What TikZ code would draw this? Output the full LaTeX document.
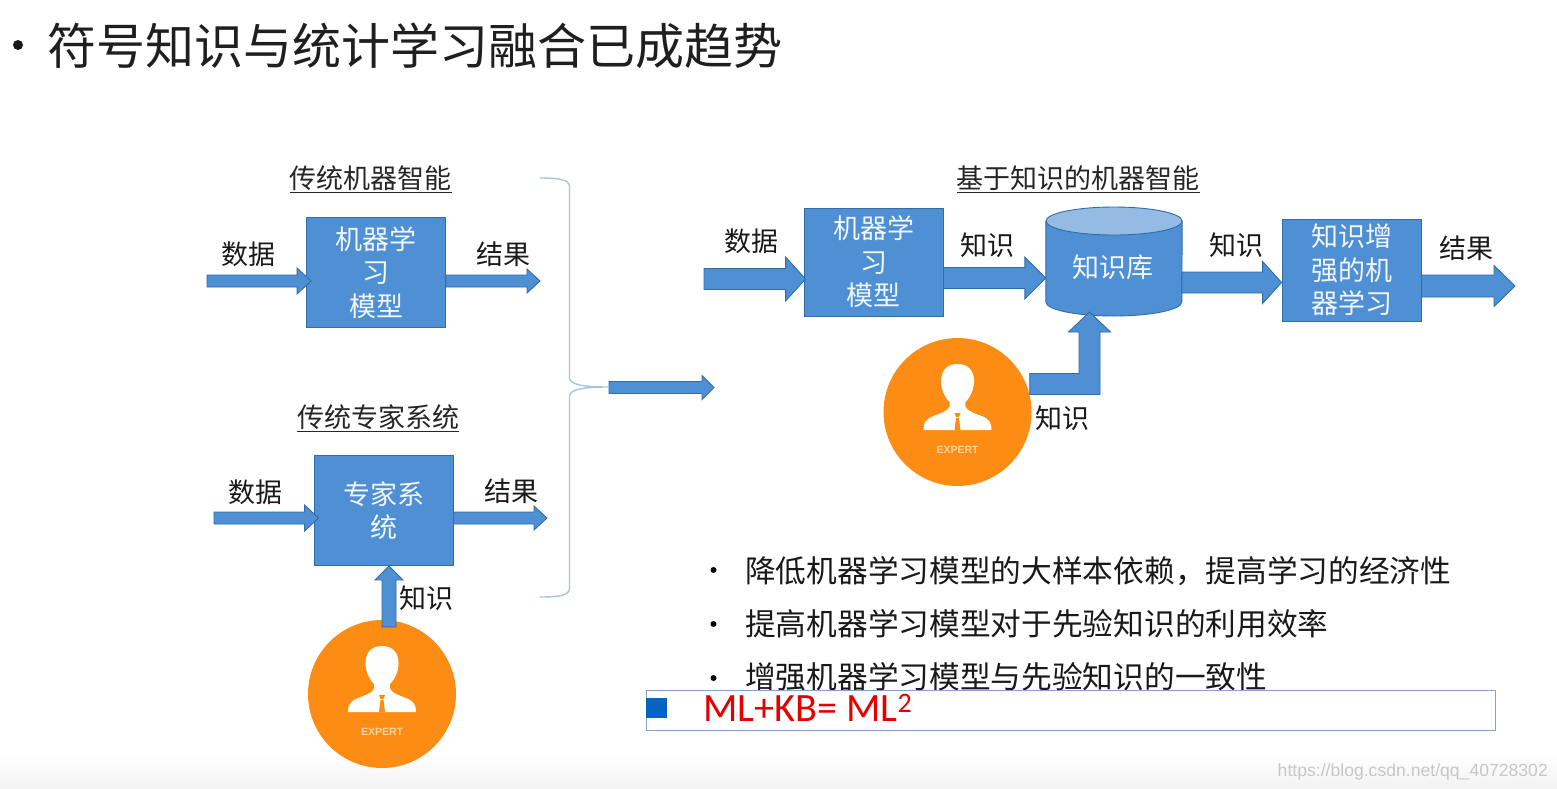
\documentclass[tikz,border=0pt]{standalone}
\usepackage{fontspec}
\setmainfont{Noto Sans CJK SC}
\newfontfamily\latinfont{Liberation Sans}
\newfontfamily\mlfont{Carlito}
\usetikzlibrary{calc}
\definecolor{blockfill}{HTML}{4F8FD3}
\definecolor{blockedge}{HTML}{2F6CA8}
\definecolor{bracecol}{HTML}{A9C3E3}
\definecolor{expertor}{HTML}{FC8C14}
\definecolor{cyltop}{HTML}{93BBE4}
\definecolor{bandedge}{HTML}{86A3C8}
\definecolor{sqblue}{HTML}{0563C1}
\definecolor{expertlabel}{HTML}{FFD5A3}
\tikzset{
  blockarrow/.style={fill=blockfill,draw=blockedge,line width=0.9pt,line join=miter},
  bluebox/.style={rectangle,fill=blockfill,draw=blockedge,line width=0.9pt,inner sep=0pt,text=white!92!blockfill,align=center,font=\fontsize{27}{33.5}\selectfont},
  lab/.style={inner sep=0pt,font=\fontsize{27}{33}\selectfont,text=black!90},
  heading/.style={inner sep=0pt,font=\fontsize{27}{33}\selectfont,text=black!85},
  pointtext/.style={inner sep=0pt,anchor=west,font=\fontsize{30.7}{36}\selectfont,text=black!90},
  dotmark/.style={circle,fill=black,inner sep=0pt,minimum size=6pt},
  expertdisc/.style={circle,fill=expertor,inner sep=0pt,minimum size=148pt},
  expertname/.style={inner sep=0pt,text=expertlabel,font=\latinfont\bfseries\fontsize{10.5}{12}\selectfont},
  bracepath/.style={draw=bracecol,line width=1.4pt,line cap=round}
}
% #1 from, #2 to, #3 half shaft, #4 half head, #5 head length
\newcommand{\harrow}[5]{%
  \draw[blockarrow] let \p1=(#1),\p2=(#2) in
    (\x1,\y1+#3pt) -- (\x2-#5pt,\y1+#3pt) -- (\x2-#5pt,\y1+#4pt) -- (\x2,\y1)
    -- (\x2-#5pt,\y1-#4pt) -- (\x2-#5pt,\y1-#3pt) -- (\x1,\y1-#3pt) -- cycle;}
\newcommand{\experticon}[1]{%
  \begin{scope}[shift={(#1)}]
    \fill[white] (-8,-10) .. controls (-20,-22) and (-21,-48) .. (0,-48)
      .. controls (21,-48) and (20,-22) .. (8,-10)
      .. controls (6,-4) and (10,-1) .. (24,4)
      .. controls (32,7) and (34,11) .. (34,18)
      -- (-34,18) .. controls (-34,11) and (-32,7) .. (-24,4)
      .. controls (-10,-1) and (-6,-4) .. (-8,-10) -- cycle;
    \fill[expertor] (-3,1) -- (3,1) -- (1.5,5) -- (-1.5,5) -- cycle;
    \fill[expertor] (-1.5,6) -- (1.5,6) -- (3,18) -- (-3,18) -- cycle;
  \end{scope}}
\begin{document}
\begin{tikzpicture}[x=1pt,y=-1pt]
\useasboundingbox (0,0) rectangle (1557,788);
\shade[top color=white,bottom color=black!5] (0,755) rectangle (1557,788);

% title
\node[circle,fill=black!90,inner sep=0pt,minimum size=10pt] (titledot) at (18,45) {};
\node[inner sep=0pt,anchor=west,font=\fontsize{49}{56}\selectfont,text=black!88] (title) at (47,46) {符号知识与统计学习融合已成趋势};

% upper left: machine intelligence
\node[heading] (h1) at (370.5,179) {\underline{传统机器智能}};
\node[bluebox,minimum width=139pt,minimum height=110pt] (ml1) at (376,272.5) {机器学\\习\\模型};
\coordinate (d1) at (207,281);
\coordinate (r1) at (540,281);
\harrow{d1}{$(ml1.west |- d1)+(5,0)$}{6}{13}{14}
\harrow{ml1.east |- r1}{r1}{6}{12}{13}
\node[lab] (d1t) at (248,254) {数据};
\node[lab] (r1t) at (503,254) {结果};

% lower left: expert system
\node[heading] (h2) at (378,418) {\underline{传统专家系统}};
\node[bluebox,minimum width=139pt,minimum height=110pt] (es) at (383.5,510.5) {专家系\\统};
\coordinate (d2) at (214,518);
\coordinate (r2) at (547,518);
\harrow{d2}{$(es.west |- d2)+(5,0)$}{6}{13}{14}
\harrow{es.east |- r2}{r2}{6}{12}{13}
\node[lab] (d2t) at (255,492) {数据};
\node[lab] (r2t) at (511,491) {结果};
\node[expertdisc] (exp1) at (382,694) {};
\experticon{382,694}
\node[expertname] (exp1t) at (382,732) {EXPERT};
\coordinate (u1) at (389,627);
\draw[blockarrow] let \p1=(u1),\p2=(es.south) in
  (\x1-7pt,\y1) -- (\x1-7pt,\y2-14pt) -- (\x1-14pt,\y2-14pt) -- (\x1,\y2)
  -- (\x1+14pt,\y2-14pt) -- (\x1+7pt,\y2-14pt) -- (\x1+7pt,\y1) -- cycle;
\node[lab] (k1t) at (426,598) {知识};

% brace
\coordinate (bt) at (540,178);
\coordinate (bb) at (540,597);
\coordinate (bm) at (608,387);
\draw[bracepath] (bt) .. controls (556,178) and (569,179) .. (569.5,186)
  -- (569.5,378) .. controls (570,385) and (585,387) .. (bm)
  .. controls (585,387) and (570,389) .. (569.5,396)
  -- (569.5,589) .. controls (569,596) and (556,597) .. (bb);
\coordinate (ms) at (609,387.5);
\coordinate (me) at (714,387.5);
\harrow{ms}{me}{6}{12}{12}

% right: knowledge-based
\node[heading] (h3) at (1078,179) {\underline{基于知识的机器智能}};
\node[bluebox,minimum width=139pt,minimum height=108pt] (ml2) at (873.5,262) {机器学\\习\\模型};
% cylinder
\node[inner sep=0pt,minimum width=136pt,minimum height=109pt] (kb) at (1114,261.5) {};
\draw[fill=blockfill,draw=blockedge,line width=0.9pt] (kb.west |- 0,221) -- (kb.west |- 0,302)
  arc[start angle=180,end angle=360,x radius=68pt,y radius=14pt]
  -- (kb.east |- 0,221) -- cycle;
\draw[fill=cyltop,draw=blockedge,line width=0.9pt] (kb.center |- 0,221) ellipse[x radius=68pt,y radius=14pt];
\node[inner sep=0pt,text=white!92!blockfill,font=\fontsize{27}{33}\selectfont] (kbt) at (1113,267) {知识库};
\node[bluebox,minimum width=139pt,minimum height=102pt] (ke) at (1351.5,270) {知识增\\强的机\\器学习};
\coordinate (d3) at (704,279);
\harrow{d3}{$(ml2.west |- d3)+(2,0)$}{10.5}{22}{20}
\coordinate (k2) at (943.5,278);
\coordinate (k3) at (1182,282.5);
\coordinate (r3) at (1515,286);
\harrow{k2}{kb.west |- k2}{10.5}{21}{21}
\harrow{k3}{ke.west |- k3}{10.5}{21}{19}
\harrow{ke.east |- r3}{r3}{11}{20.5}{21}
\node[lab] (d3t) at (751,241) {数据};
\node[lab] (k2t) at (987,245) {知识};
\node[lab] (k3t) at (1236,245) {知识};
\node[lab] (r3t) at (1466,248) {结果};
\coordinate (bend) at (1089.5,384);
\coordinate (tipk) at (1089.5,312);
\node[expertdisc] (exp2) at (957.5,412) {};
\experticon{957.5,412}
\node[expertname] (exp2t) at (957.5,450) {EXPERT};
\draw[blockarrow] let \p1=(exp2.east),\p2=(bend),\p3=(tipk) in
  (\x1-2pt,\y2-10.5pt) -- (\x2+10.5pt,\y2-10.5pt) -- (\x2+10.5pt,\y3-20pt) -- (\x2+21pt,\y3-20pt)
  -- (\x3,\y3) -- (\x2-21pt,\y3-20pt) -- (\x2-10.5pt,\y3-20pt) -- (\x2-10.5pt,\y2+10.5pt)
  -- (\x1-2pt,\y2+10.5pt) -- cycle;
\node[lab] (k4t) at (1062,418) {知识};

% points
\node[dotmark] (b1) at (713.5,570) {};
\node[pointtext] (p1) at (745,571) {降低机器学习模型的大样本依赖，提高学习的经济性};
\node[dotmark] (b2) at (713.5,624) {};
\node[pointtext] (p2) at (745,624) {提高机器学习模型对于先验知识的利用效率};
\node[dotmark] (b3) at (713.5,678) {};
\node[pointtext] (p3) at (745,677) {增强机器学习模型与先验知识的一致性};

% formula band
\node[rectangle,fill=white,draw=bandedge,line width=1pt,inner sep=0pt,minimum width=849pt,minimum height=40pt] (band) at (1070.5,710) {};
\node[rectangle,fill=sqblue,inner sep=0pt,minimum width=21pt,minimum height=20pt] (sq) at (656.5,708) {};
\node[inner sep=0pt,anchor=west,text=red!90!black,font=\mlfont\fontsize{40.2}{46}\selectfont] (ml) at (703,707.5) {ML+KB= ML\textsuperscript{2}};

% watermark
\node[inner sep=0pt,anchor=east,text=black!22,font=\latinfont\fontsize{17.6}{21}\selectfont] (wm) at (1548,771.5) {https://blog.csdn.net/qq\_40728302};
\end{tikzpicture}
\end{document}
